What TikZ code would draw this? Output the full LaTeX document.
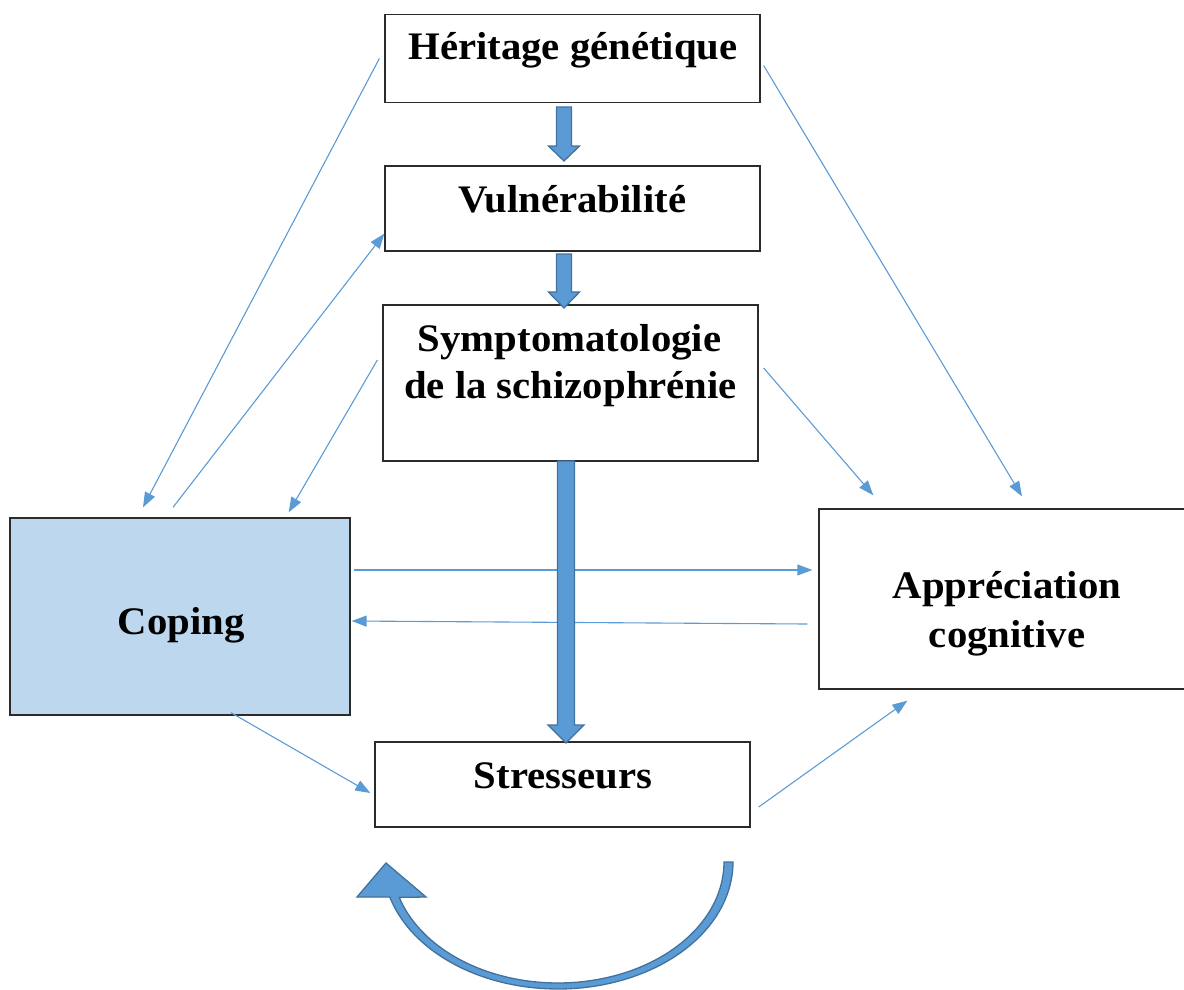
\documentclass[tikz,border=0pt]{standalone}
\usepackage{fontspec}
\setmainfont{Liberation Serif}[FakeStretch=1.045]
\usetikzlibrary{arrows.meta,calc}
\definecolor{arrblue}{HTML}{5B9BD5}
\definecolor{arredge}{HTML}{41719C}
\definecolor{copfill}{HTML}{BDD7EE}
\definecolor{boxline}{HTML}{2B2B2B}
\begin{document}
\begin{tikzpicture}[x=1pt,y=-1pt,
  box/.style={draw=boxline, line width=1.3pt, rectangle, inner sep=0pt},
  lbl/.style={font=\bfseries\fontsize{39}{47}\selectfont, inner sep=0pt, anchor=base},
  conn/.style={draw=arrblue, line width=1.1pt, -{Triangle[length=15pt,width=11pt]}},
  blockarr/.style={fill=arrblue, draw=arredge, line width=1.3pt, line join=miter}]
\useasboundingbox (0,0) rectangle (1184,989);

% boxes
\node[box, minimum width=375pt, minimum height=88pt] (her) at (572.5,58.5) {};
\node[box, minimum width=375pt, minimum height=85pt] (vul) at (572.5,208.5) {};
\node[box, minimum width=375pt, minimum height=156pt] (sym) at (570.5,383) {};
\node[box, fill=copfill, minimum width=340pt, minimum height=197pt] (cop) at (180,616.5) {};
\node[box, minimum width=374pt, minimum height=180pt] (app) at (1006,599) {};
\node[box, minimum width=375pt, minimum height=85pt] (str) at (562.5,784.5) {};

% texts
\node[lbl] (herT) at (573,59) {Héritage génétique};
\node[lbl] (vulT) at (572.5,212) {Vulnérabilité};
\node[lbl] (symT1) at (569.5,351) {Symptomatologie};
\node[lbl] (symT2) at (570.5,398) {de la schizophrénie};
\node[lbl] (copT) at (181,634) {Coping};
\node[lbl] (appT1) at (1007,598) {Appréciation};
\node[lbl] (appT2) at (1007,647) {cognitive};
\node[lbl] (strT) at (563,788) {Stresseurs};

% thin connectors
\draw[conn] ($(her.west)+(-5,0)$) -- ($(cop.north)+(-37,-10)$);
\draw[conn] ($(cop.north)+(-7,-10)$) -- ($(vul.south west)+(0,-18)$);
\draw[conn] ($(sym.west)+(-5,-23)$) -- ($(cop.north east)+(-62,-5)$);
\draw[conn] ($(her.east)+(3,7)$) -- ($(app.north)+(16,-12)$);
\draw[conn] ($(sym.east)+(5,-15)$) -- ($(app.north west)+(55,-13)$);
\draw[conn] ($(cop.east)+(3,-46.5)$) -- ($(app.west)+(-6,-29)$);
\draw[conn] ($(app.west)+(-11,25)$) -- ($(cop.east)+(1,4.5)$);
\draw[conn] ($(cop.south)+(51,-3)$) -- ($(str.west)+(-4,8.5)$);
\draw[conn] ($(str.east)+(8,22.5)$) -- ($(app.south west)+(89,11)$);

% block arrows
\draw[blockarr] (556.5,107) -- (571.5,107) -- (571.5,146) -- (579.5,146) -- (564,161) -- (548.5,146) -- (556.5,146) -- cycle;
\draw[blockarr] (556.5,254) -- (571.5,254) -- (571.5,292) -- (579.5,292) -- (564,308) -- (548.5,292) -- (556.5,292) -- cycle;
\draw[blockarr] (557.5,461) -- (574.5,461) -- (574.5,725) -- (584,725) -- (566,743) -- (548,725) -- (557.5,725) -- cycle;

% curved feedback arrow
\draw[blockarr] plot[domain=0:164, samples=80] ({558+175*cos(\x)},{862+127*sin(\x)})
  -- (357,897) -- (386,863) -- (426,897)
  -- plot[domain=163:0, samples=80] ({558+166*cos(\x)},{862+121*sin(\x)}) -- cycle;
\end{tikzpicture}
\end{document}
